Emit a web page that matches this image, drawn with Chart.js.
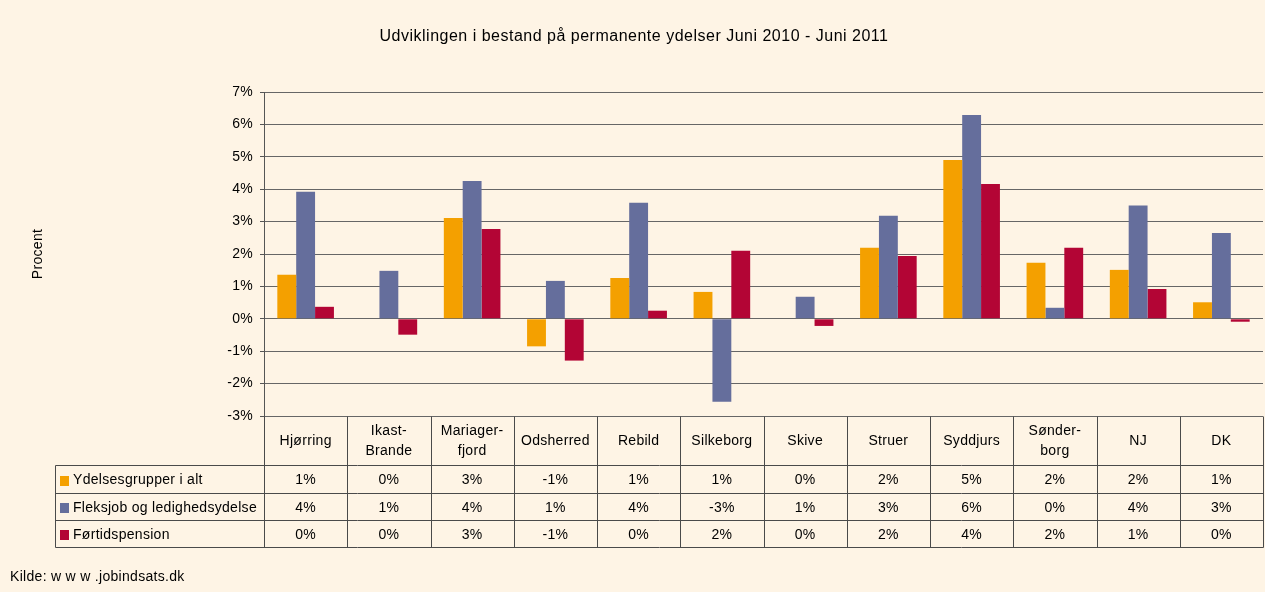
<!DOCTYPE html>
<html>
<head>
<meta charset="utf-8">
<script src="https://cdn.jsdelivr.net/npm/chart.js@4.4.1/dist/chart.umd.min.js"></script>
<style>
  html, body { margin: 0; padding: 0; background: #fef4e5; }
  #wrap { width: 1265px; height: 592px; position: relative; }
</style>
</head>
<body>
<div id="wrap"><canvas id="grafik"></canvas></div>
<script>
const kommuner = ['Hjørring', ['Ikast-', 'Brande'], ['Mariager-', 'fjord'], 'Odsherred', 'Rebild', 'Silkeborg', 'Skive', 'Struer', 'Syddjurs', ['Sønder-', 'borg'], 'NJ', 'DK'];
const serieNavne = ['Ydelsesgrupper i alt', 'Fleksjob og ledighedsydelse', 'Førtidspension'];
const ydelserIalt = [1.36, 0, 3.11, -0.85, 1.26, 0.83, 0, 2.19, 4.90, 1.73, 1.51, 0.51];
const fleksjob    = [3.92, 1.48, 4.25, 1.17, 3.58, -2.56, 0.68, 3.18, 6.29, 0.34, 3.50, 2.65];
const foertid     = [0.37, -0.49, 2.77, -1.29, 0.25, 2.10, -0.22, 1.94, 4.16, 2.19, 0.92, -0.09];
const yMin = -3, yMax = 7, yStep = 1;
const farver = ['#f4a000', '#656e9c', '#b30535'];

const titel = 'Udviklingen i bestand på permanente ydelser Juni 2010 - Juni 2011';
const kilde = 'Kilde: w w w .jobindsats.dk';
const skrift = '"Liberation Sans", Arial, sans-serif';

Chart.defaults.font.family = skrift;
Chart.defaults.font.size = 14;
Chart.defaults.color = '#000';

// lidt bredere tekst ligesom i originalen
const spatiering = {
  id: 'spatiering',
  beforeDraw(chart) { chart.ctx.letterSpacing = '0.3px'; }
};

// tegner titel, aksetitel og datatabellen under grafen
const tabelPlugin = {
  id: 'tabel',
  afterDraw(chart) {
    const ctx = chart.ctx;
    const a = chart.chartArea;
    const x = chart.scales.x;
    const n = kommuner.length;
    const bred = (a.right - a.left) / n;
    const top = Math.round(a.bottom) + 0.5;
    const hovedBund = 465.5;
    const rkBund = [493.5, 520.5, 547.5];
    const venstre = 55.5;
    const hoejre = Math.round(a.right) + 0.5;
    const serier = [ydelserIalt, fleksjob, foertid];

    ctx.save();
    ctx.fillStyle = '#000';
    ctx.letterSpacing = '0.5px';
    ctx.font = '16px ' + skrift;
    ctx.textAlign = 'center';
    ctx.textBaseline = 'middle';
    ctx.fillText(titel, 634, 37);

    ctx.letterSpacing = '0.3px';
    ctx.font = '14px ' + skrift;
    ctx.save();
    ctx.translate(38, 254);
    ctx.rotate(-Math.PI / 2);
    ctx.fillText('Procent', 0, 0);
    ctx.restore();

    // linjer
    ctx.strokeStyle = '#4a4a4a';
    ctx.lineWidth = 1;
    ctx.beginPath();
    for (let i = 0; i <= n; i++) {
      const lx = Math.round(a.left + i * bred) + 0.5;
      ctx.moveTo(lx, top);
      ctx.lineTo(lx, rkBund[2]);
    }
    ctx.moveTo(venstre, hovedBund);
    ctx.lineTo(hoejre, hovedBund);
    rkBund.forEach(y => { ctx.moveTo(venstre, y); ctx.lineTo(hoejre, y); });
    ctx.moveTo(venstre, hovedBund);
    ctx.lineTo(venstre, rkBund[2]);
    ctx.stroke();

    // kolonneoverskrifter
    ctx.textAlign = 'center';
    kommuner.forEach((k, i) => {
      const cx = x.getPixelForValue(i);
      const linjer = Array.isArray(k) ? k : [k];
      const midt = (top + hovedBund) / 2;
      linjer.forEach((l, j) => {
        ctx.fillText(l, cx, midt + (j - (linjer.length - 1) / 2) * 20);
      });
    });

    // rækker
    let forrige = hovedBund;
    serier.forEach((s, r) => {
      const my = (forrige + rkBund[r]) / 2 + 1;
      ctx.fillStyle = farver[r];
      ctx.fillRect(60, Math.round(my - 5), 9, 10);
      ctx.fillStyle = '#000';
      ctx.textAlign = 'left';
      ctx.fillText(serieNavne[r], 73, my);
      ctx.textAlign = 'center';
      s.forEach((v, i) => {
        ctx.fillText((Math.round(v) || 0) + '%', x.getPixelForValue(i), my);
      });
      forrige = rkBund[r];
    });

    ctx.textAlign = 'left';
    ctx.fillText(kilde, 10, 577);
    ctx.restore();
  }
};

new Chart(document.getElementById('grafik'), {
  type: 'bar',
  data: {
    labels: kommuner,
    datasets: [
      { label: serieNavne[0], data: ydelserIalt, backgroundColor: farver[0] },
      { label: serieNavne[1], data: fleksjob, backgroundColor: farver[1] },
      { label: serieNavne[2], data: foertid, backgroundColor: farver[2] }
    ]
  },
  options: {
    responsive: true,
    maintainAspectRatio: false,
    animation: false,
    events: [],
    layout: { padding: { top: 92, bottom: 176, left: 0, right: 2 } },
    datasets: { bar: { categoryPercentage: 0.68, barPercentage: 1 } },
    plugins: { legend: { display: false }, tooltip: { enabled: false } },
    scales: {
      x: { display: false },
      y: {
        min: yMin,
        max: yMax,
        afterFit(scale) { scale.width = 264; },
        ticks: { stepSize: yStep, padding: 7, callback: v => v + '%' },
        grid: { color: '#666', tickLength: 4, tickColor: '#555' },
        border: { color: '#555' }
      }
    }
  },
  plugins: [spatiering, tabelPlugin]
});
</script>
</body>
</html>
